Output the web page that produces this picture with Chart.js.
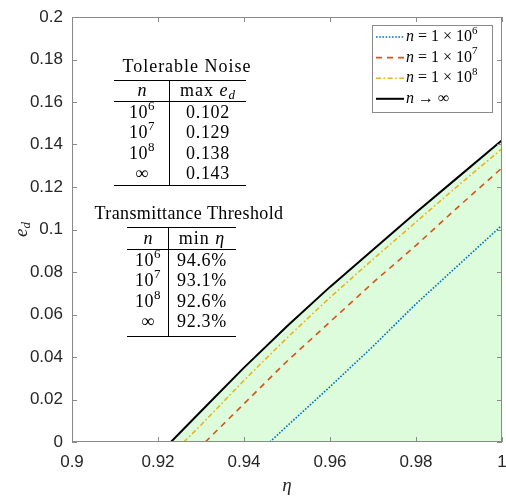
<!DOCTYPE html>
<html>
<head>
<meta charset="utf-8">
<script src="https://cdn.jsdelivr.net/npm/chart.js@4.4.1/dist/chart.umd.min.js"></script>
<style>
body{margin:0;background:#fff}
</style>
</head>
<body>
<canvas id="grafica" width="506" height="496"></canvas>
<script>
// curvas (eta en x, e_d en y)
let eta6 = [0.946, 0.95, 0.96, 0.97, 0.98, 0.99, 1.0]
let ed6 = [0, 0.0075, 0.026, 0.045, 0.065, 0.0835, 0.102]
let eta7 = [0.931, 0.94, 0.95, 0.96, 0.97, 0.98, 0.99, 1.0]
let ed7 = [0, 0.018, 0.038, 0.0565, 0.075, 0.0925, 0.111, 0.129]
let eta8 = [0.926, 0.93, 0.94, 0.95, 0.96, 0.97, 0.98, 0.99, 1.0]
let ed8 = [0, 0.008, 0.029, 0.049, 0.068, 0.086, 0.1035, 0.121, 0.138]
let etaInf = [0.923, 0.93, 0.94, 0.95, 0.96, 0.97, 0.98, 0.99, 1.0]
let edInf = [0, 0.0145, 0.035, 0.0545, 0.073, 0.0905, 0.108, 0.125, 0.142]

// textos de leyenda y tablas
let legendExp = ['6', '7', '8']
let tablaN = ['6', '7', '8', '∞']
let maxEd = ['0.102', '0.129', '0.138', '0.143']
let minEta = ['94.6%', '93.1%', '92.6%', '92.3%']

const SERIF = '"Liberation Serif", "DejaVu Serif", serif'

function puntos(xs, ys){
  return xs.map((x, i) => ({x: x, y: ys[i]}))
}

// dibuja texto con cursiva, superindice y subindice
function rico(ctx, parts, x, y, size, align, esp){
  ctx.letterSpacing = (esp || 0) + 'px'
  let fonts = parts.map(p => {
    let st = p[1]
    let s = (st === 's' || st === 'b' || st === 'bi') ? Math.round(size * 0.7) : size
    let it = (st === 'i' || st === 'bi') ? 'italic ' : ''
    return it + s + 'px ' + SERIF
  })
  let w = 0
  let ws = parts.map((p, i) => { ctx.font = fonts[i]; let m = ctx.measureText(p[0]).width; w += m; return m })
  let cx = align === 'center' ? x - w / 2 : (align === 'right' ? x - w : x)
  ctx.textAlign = 'left'
  ctx.textBaseline = 'middle'
  parts.forEach((p, i) => {
    ctx.font = fonts[i]
    let dy = 0
    if (p[1] === 's') dy = -size * 0.38
    if (p[1] === 'b' || p[1] === 'bi') dy = size * 0.25
    ctx.fillText(p[0], cx, y + dy)
    cx += ws[i]
  })
  ctx.letterSpacing = '0px'
}

function linea(ctx, x1, y1, x2, y2){
  ctx.beginPath()
  ctx.moveTo(x1, y1)
  ctx.lineTo(x2, y2)
  ctx.stroke()
}

function nCelda(v){
  return v === '∞' ? [['∞', 'r']] : [['10', 'r'], [v, 's']]
}

const extras = {
  id: 'extras',
  afterDraw(c){
    const ctx = c.ctx, a = c.chartArea, xs = c.scales.x, ys = c.scales.y
    ctx.save()
    ctx.setLineDash([])

    // caja y ticks hacia adentro
    ctx.strokeStyle = '#8a8a8a'
    ctx.lineWidth = 1
    ctx.strokeRect(a.left + 0.5, a.top + 0.5, a.right - a.left - 1, a.bottom - a.top - 1)
    xs.ticks.forEach(t => {
      let px = Math.round(xs.getPixelForValue(t.value)) + 0.5
      linea(ctx, px, a.bottom, px, a.bottom - 5)
      linea(ctx, px, a.top, px, a.top + 5)
    })
    ys.ticks.forEach(t => {
      let py = Math.round(ys.getPixelForValue(t.value)) + 0.5
      linea(ctx, a.left, py, a.left + 5, py)
      linea(ctx, a.right, py, a.right - 5, py)
    })

    ctx.fillStyle = '#262626'
    // titulos de ejes
    rico(ctx, [['η', 'i']], (a.left + a.right) / 2, 486, 19, 'center')
    ctx.save()
    ctx.translate(22, (a.top + a.bottom) / 2)
    ctx.rotate(-Math.PI / 2)
    rico(ctx, [['e', 'i'], ['d', 'bi']], 0, 0, 19, 'center')
    ctx.restore()

    // leyenda
    ctx.fillStyle = '#fff'
    ctx.fillRect(372, 25, 120, 87)
    ctx.strokeStyle = '#8a8a8a'
    ctx.strokeRect(372.5, 25.5, 120, 87)
    c.data.datasets.forEach((ds, i) => {
      let y = 37 + i * 20.6
      ctx.strokeStyle = ds.borderColor
      ctx.lineWidth = ds.borderWidth
      ctx.setLineDash(ds.borderDash || [])
      linea(ctx, 376, y, 404, y)
      ctx.setLineDash([])
      ctx.fillStyle = '#000'
      let parts = i < 3 ? [['n', 'i'], [' = 1 × 10', 'r'], [legendExp[i], 's']] : [['n', 'i'], [' → ∞', 'r']]
      rico(ctx, parts, 406, y, 16, 'left')
    })

    // tabla 1: Tolerable Noise
    ctx.fillStyle = '#000'
    ctx.strokeStyle = '#000'
    ctx.lineWidth = 1
    rico(ctx, [['Tolerable Noise', 'r']], 187, 67, 18, 'center', 1)
    linea(ctx, 114, 80.5, 246, 80.5)
    linea(ctx, 114, 101.5, 246, 101.5)
    linea(ctx, 114, 185.5, 246, 185.5)
    linea(ctx, 169.5, 80, 169.5, 185)
    rico(ctx, [['n', 'i']], 142, 91, 18, 'center')
    rico(ctx, [['max ', 'r'], ['e', 'i'], ['d', 'bi']], 208, 91, 18, 'center', 1)
    tablaN.forEach((v, i) => {
      let y = 113 + i * 20.5
      rico(ctx, nCelda(v), 142, y, 18, 'center', 0.5)
      rico(ctx, [[maxEd[i], 'r']], 208, y, 18, 'center', 0.7)
    })

    // tabla 2: Transmittance Threshold
    rico(ctx, [['Transmittance Threshold', 'r']], 189, 214, 18, 'center', 0.4)
    linea(ctx, 127, 227.5, 236, 227.5)
    linea(ctx, 127, 249.5, 236, 249.5)
    linea(ctx, 127, 336.5, 236, 336.5)
    linea(ctx, 168.5, 228, 168.5, 336)
    rico(ctx, [['n', 'i']], 148, 239, 18, 'center')
    rico(ctx, [['min ', 'r'], ['η', 'i']], 202, 239, 18, 'center', 1)
    tablaN.forEach((v, i) => {
      let y = 261 + i * 20.5
      rico(ctx, nCelda(v), 148, y, 18, 'center', 0.5)
      rico(ctx, [[minEta[i], 'r']], 202, y, 18, 'center', 0.7)
    })

    ctx.restore()
  }
}

let chart = new Chart(document.getElementById('grafica'), {
  type: 'line',
  data: {
    datasets: [
      {
        label: 'n = 1e6',
        data: puntos(eta6, ed6),
        borderColor: '#0072BD',
        borderWidth: 1.6,
        borderDash: [1.6, 1.6],
        pointRadius: 0,
        fill: false
      },
      {
        label: 'n = 1e7',
        data: puntos(eta7, ed7),
        borderColor: '#D95319',
        borderWidth: 1.6,
        borderDash: [6, 5],
        pointRadius: 0,
        fill: false
      },
      {
        label: 'n = 1e8',
        data: puntos(eta8, ed8),
        borderColor: '#EDB120',
        borderWidth: 1.6,
        borderDash: [5, 2.5, 1.6, 2.5],
        pointRadius: 0,
        fill: false
      },
      {
        label: 'n -> inf',
        data: puntos(etaInf, edInf),
        borderColor: '#000000',
        borderWidth: 2,
        pointRadius: 0,
        fill: 'origin',
        backgroundColor: '#dcfcdc'
      }
    ]
  },
  options: {
    responsive: false,
    animation: false,
    devicePixelRatio: 1,
    layout: {padding: {left: 0, right: 4, top: 17, bottom: 0}},
    plugins: {
      legend: {display: false},
      tooltip: {enabled: false},
      filler: {drawTime: 'beforeDatasetsDraw'}
    },
    scales: {
      x: {
        type: 'linear',
        min: 0.9,
        max: 1,
        grid: {display: false, drawTicks: false},
        border: {display: false},
        ticks: {
          stepSize: 0.02,
          padding: 10,
          color: '#262626',
          font: {family: '"Liberation Sans", Arial, sans-serif', size: 17},
          maxRotation: 0,
          callback: v => String(Number(v.toFixed(2)))
        },
        afterFit: s => { s.height = 54; s.paddingLeft = 0; s.paddingRight = 0 }
      },
      y: {
        type: 'linear',
        min: 0,
        max: 0.2,
        grid: {display: false, drawTicks: false},
        border: {display: false},
        ticks: {
          stepSize: 0.02,
          padding: 9,
          color: '#262626',
          font: {family: '"Liberation Sans", Arial, sans-serif', size: 17},
          callback: v => String(Number(v.toFixed(2)))
        },
        afterFit: s => { s.width = 72; s.paddingTop = 0; s.paddingBottom = 0 }
      }
    }
  },
  plugins: [extras]
})
</script>
</body>
</html>
